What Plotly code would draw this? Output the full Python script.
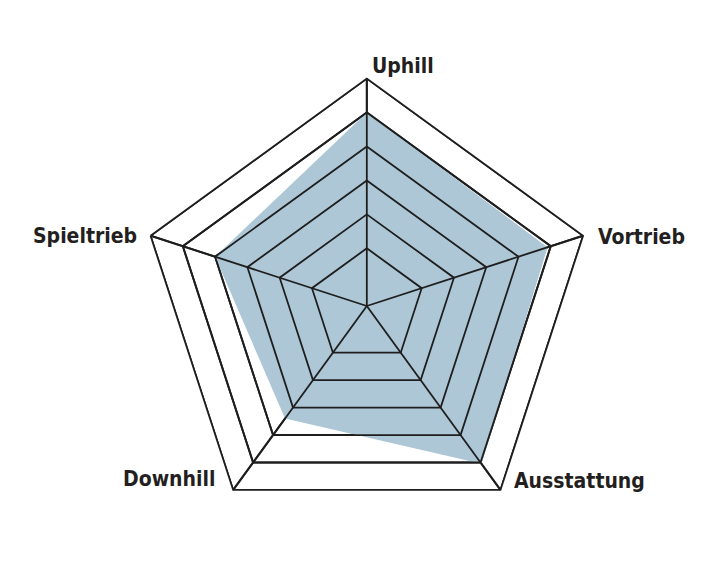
import plotly.graph_objects as go

# Kategorien (im Uhrzeigersinn, oben beginnend) und Werte
kategorien = ['Uphill', 'Vortrieb', 'Ausstattung', 'Downhill', 'Spieltrieb']
werte = [5.0, 4.9, 5.05, 3.4, 4.0]

# Skala: 6 Ringe, Mitte liegt etwas unter dem innersten Ring
ringe = [1, 2, 3, 4, 5, 6]
r_min = -0.7
r_max = 6

fill_farbe = '#adc7d6'
linien_farbe = '#1e1e1e'
text_farbe = '#231f20'
schrift = 'DejaVu Sans Condensed, Liberation Sans Narrow, sans-serif'

# Beschriftungspositionen (Papierkoordinaten) wie im Original
label_pos = {
    'Uphill':      dict(x=0.509, y=0.900, xanchor='left'),
    'Vortrieb':    dict(x=0.826, y=0.605, xanchor='left'),
    'Ausstattung': dict(x=0.708, y=0.186, xanchor='left'),
    'Downhill':    dict(x=0.294, y=0.190, xanchor='right'),
    'Spieltrieb':  dict(x=0.184, y=0.607, xanchor='right'),
}

fig = go.Figure()

# Gefuellte Flaeche
fig.add_trace(go.Scatterpolar(
    r=werte + werte[:1],
    theta=kategorien + kategorien[:1],
    fill='toself',
    fillcolor=fill_farbe,
    line=dict(width=0, color=fill_farbe),
    mode='lines',
    hoverinfo='skip',
    showlegend=False,
))

# Ringe ueber die Flaeche legen (Gitter liegt sonst darunter)
for ring in ringe:
    fig.add_trace(go.Scatterpolar(
        r=[ring] * (len(kategorien) + 1),
        theta=kategorien + kategorien[:1],
        mode='lines',
        line=dict(color=linien_farbe, width=1.8),
        hoverinfo='skip',
        showlegend=False,
    ))

# Speichen
for kat in kategorien:
    fig.add_trace(go.Scatterpolar(
        r=[r_min, r_max],
        theta=[kat, kat],
        mode='lines',
        line=dict(color=linien_farbe, width=1.8),
        hoverinfo='skip',
        showlegend=False,
    ))

# Achsenbeschriftungen
for kat in kategorien:
    p = label_pos[kat]
    fig.add_annotation(
        text=kat, xref='paper', yref='paper',
        x=p['x'], y=p['y'], xanchor=p['xanchor'], yanchor='middle',
        showarrow=False,
        font=dict(family=schrift, size=21, color=text_farbe, weight='bold'),
    )

fig.update_layout(
    width=712,
    height=581,
    margin=dict(l=0, r=0, t=0, b=0),
    paper_bgcolor='white',
    plot_bgcolor='white',
    font=dict(family=schrift, color=text_farbe),
    polar=dict(
        domain=dict(x=[0.1846, 0.8233], y=[0.0957, 0.8785]),
        gridshape='linear',
        bgcolor='white',
        radialaxis=dict(
            range=[r_min, r_max],
            tickvals=ringe,
            showticklabels=False,
            ticks='',
            showline=False,
            gridcolor=linien_farbe,
            gridwidth=1.8,
        ),
        angularaxis=dict(
            direction='clockwise',
            rotation=90,
            ticks='',
            showticklabels=False,
            showline=True,
            linecolor=linien_farbe,
            linewidth=1.8,
            gridcolor=linien_farbe,
            gridwidth=1.8,
        ),
    ),
)

fig.write_html("out.html")
